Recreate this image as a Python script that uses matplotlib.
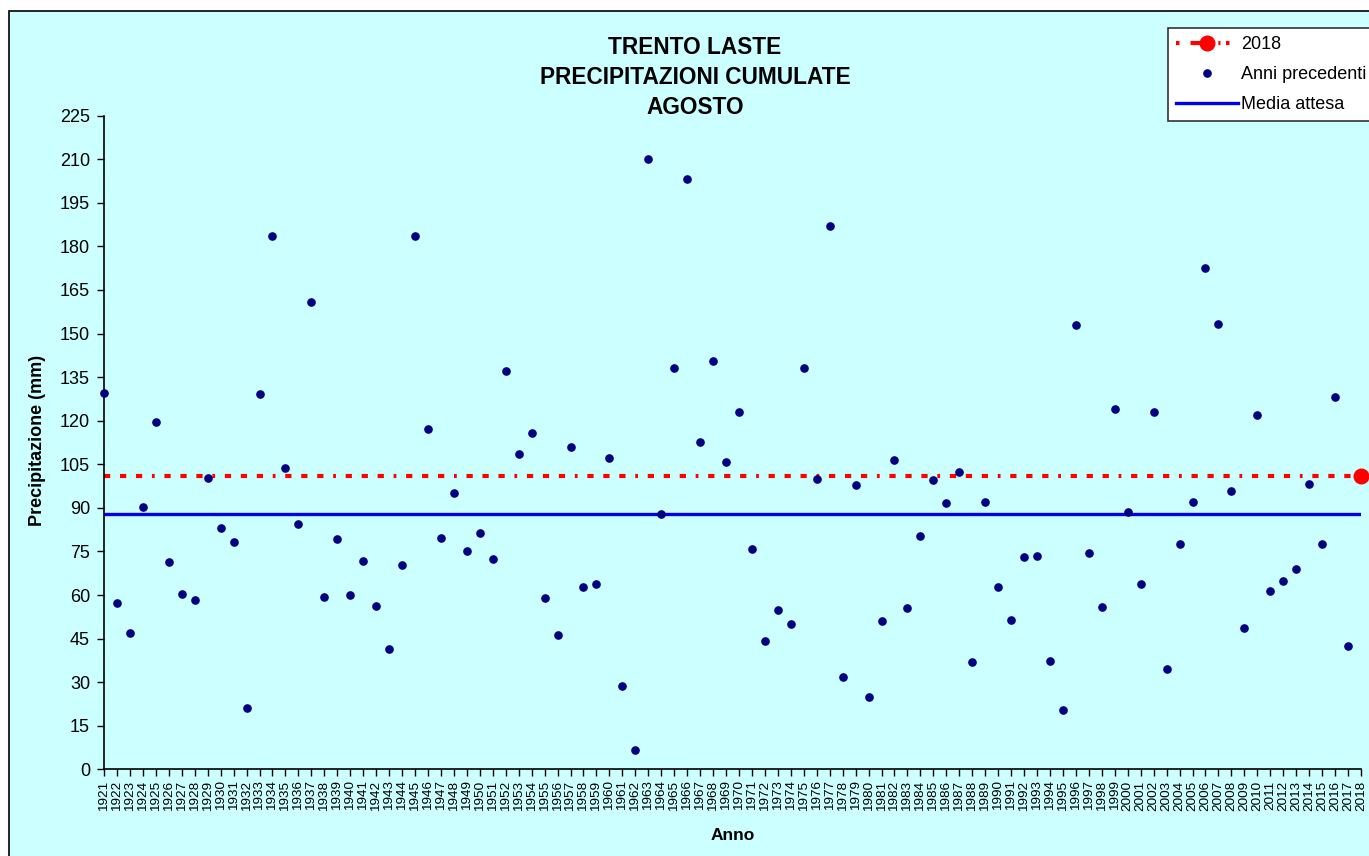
import matplotlib
matplotlib.use("Agg")
import matplotlib.pyplot as plt
from matplotlib.patches import Rectangle

plt.rcParams['font.family'] = ['Liberation Sans', 'DejaVu Sans']
plt.rcParams['lines.scale_dashes'] = False

# anni precedenti
years = list(range(1921, 2018))
values = [129.4, 57.3, 46.8, 90.4, 119.6, 71.4, 60.5, 58.2, 100.2, 83.2,
          78.2, 21.0, 129.1, 183.7, 103.7, 84.3, 161.0, 59.3, 79.4, 60.0,
          71.8, 56.2, 41.4, 70.3, 183.7, 117.2, 79.7, 95.2, 75.1, 81.2,
          72.5, 137.1, 108.5, 115.8, 58.9, 46.3, 110.8, 62.6, 63.8, 107.1,
          28.6, 6.5, 210.2, 87.8, 138.2, 203.3, 112.8, 140.4, 105.9, 123.0,
          75.9, 44.2, 54.7, 50.1, 138.1, 99.9, 187.0, 31.7, 98.0, 24.8,
          50.9, 106.4, 55.4, 80.2, 99.5, 91.6, 102.2, 36.8, 91.9, 62.8,
          51.4, 73.0, 73.3, 37.3, 20.5, 153.0, 74.5, 55.9, 124.1, 88.5,
          63.8, 123.0, 34.6, 77.4, 91.9, 172.7, 153.4, 95.7, 48.6, 121.9,
          61.5, 64.9, 69.1, 98.3, 77.5, 128.3, 42.5]
year_now = 2018
value_now = 100.9
media = 87.9

all_years = years + [year_now]
bg = '#CCFFFF'

fig = plt.figure(figsize=(13.69, 8.56), dpi=100)
fig.patch.set_facecolor('white')
# cornice del grafico
frame = Rectangle((9 / 1369, -0.05), 1.1, 1 - 11 / 856 + 0.05,
                  transform=fig.transFigure, facecolor=bg,
                  edgecolor='black', linewidth=1.2, zorder=-5)
fig.patches.append(frame)

ax = fig.add_axes([104 / 1369, 1 - 769.3 / 856, 1257 / 1369, 653.6 / 856])
ax.set_facecolor('none')
ax.set_zorder(2)

ax.plot([all_years[0], all_years[-1]], [value_now, value_now], color='red',
        linewidth=3, linestyle=(0, (4.5, 7, 4.5, 7, 4.5, 7, 2, 7)),
        zorder=2)
ax.plot([year_now], [value_now], 'o', color='red', markersize=10.5,
        clip_on=False, zorder=4)
ax.plot(years, values, 'o', color='#000080', markersize=5.2, linestyle='none',
        clip_on=False, zorder=3)
ax.plot([all_years[0], all_years[-1]], [media, media], color='#0000EE',
        linewidth=2.4, zorder=2)

# voci legenda
h1, = ax.plot([], [], color='red', linewidth=3, marker='o', markersize=10.5,
              linestyle=(0, (2.5, 8, 12, 8, 1.5, 4)))
h2, = ax.plot([], [], 'o', color='#000080', markersize=5.2)
h3, = ax.plot([], [], color='#0000EE', linewidth=2.4)
leg = fig.legend([h1, h2, h3], ['2018', 'Anni precedenti', 'Media attesa'],
                 loc='upper left', bbox_to_anchor=(1168 / 1369, 1 - 28 / 856),
                 fontsize=13, frameon=True, fancybox=False, framealpha=1,
                 handlelength=3.4, handletextpad=0.2, labelspacing=0.72,
                 borderpad=0.45, borderaxespad=0)
leg.get_frame().set_edgecolor('#333333')
leg.get_frame().set_linewidth(1.2)
leg.set_zorder(5)

ax.set_xlim(all_years[0], all_years[-1])
ax.set_ylim(0, 225)
ax.set_yticks(range(0, 226, 15))
ax.set_xticks(all_years)
ax.set_xticklabels([str(y) for y in all_years], rotation=90, fontsize=9.7)
ax.tick_params(axis='y', labelsize=13, length=5, width=1, direction='out', pad=5)
ax.tick_params(axis='x', length=5, width=1, direction='out', pad=3)
for s in ['top', 'right']:
    ax.spines[s].set_visible(False)
for s in ['left', 'bottom']:
    ax.spines[s].set_linewidth(1.2)

fig.text(695 / 1369, 1 - 36 / 856, 'TRENTO LASTE\nPRECIPITAZIONI CUMULATE\nAGOSTO',
         ha='center', va='top', fontsize=16.3, fontweight='bold', linespacing=1.38)
fig.text(38 / 1369, 1 - 440 / 856, 'Precipitazione (mm)', rotation=90,
         ha='center', va='center', fontsize=13, fontweight='bold')
fig.text(733 / 1369, 1 - 835 / 856, 'Anno', ha='center', va='center',
         fontsize=12.5, fontweight='bold')

fig.savefig('out.png', dpi=100)
